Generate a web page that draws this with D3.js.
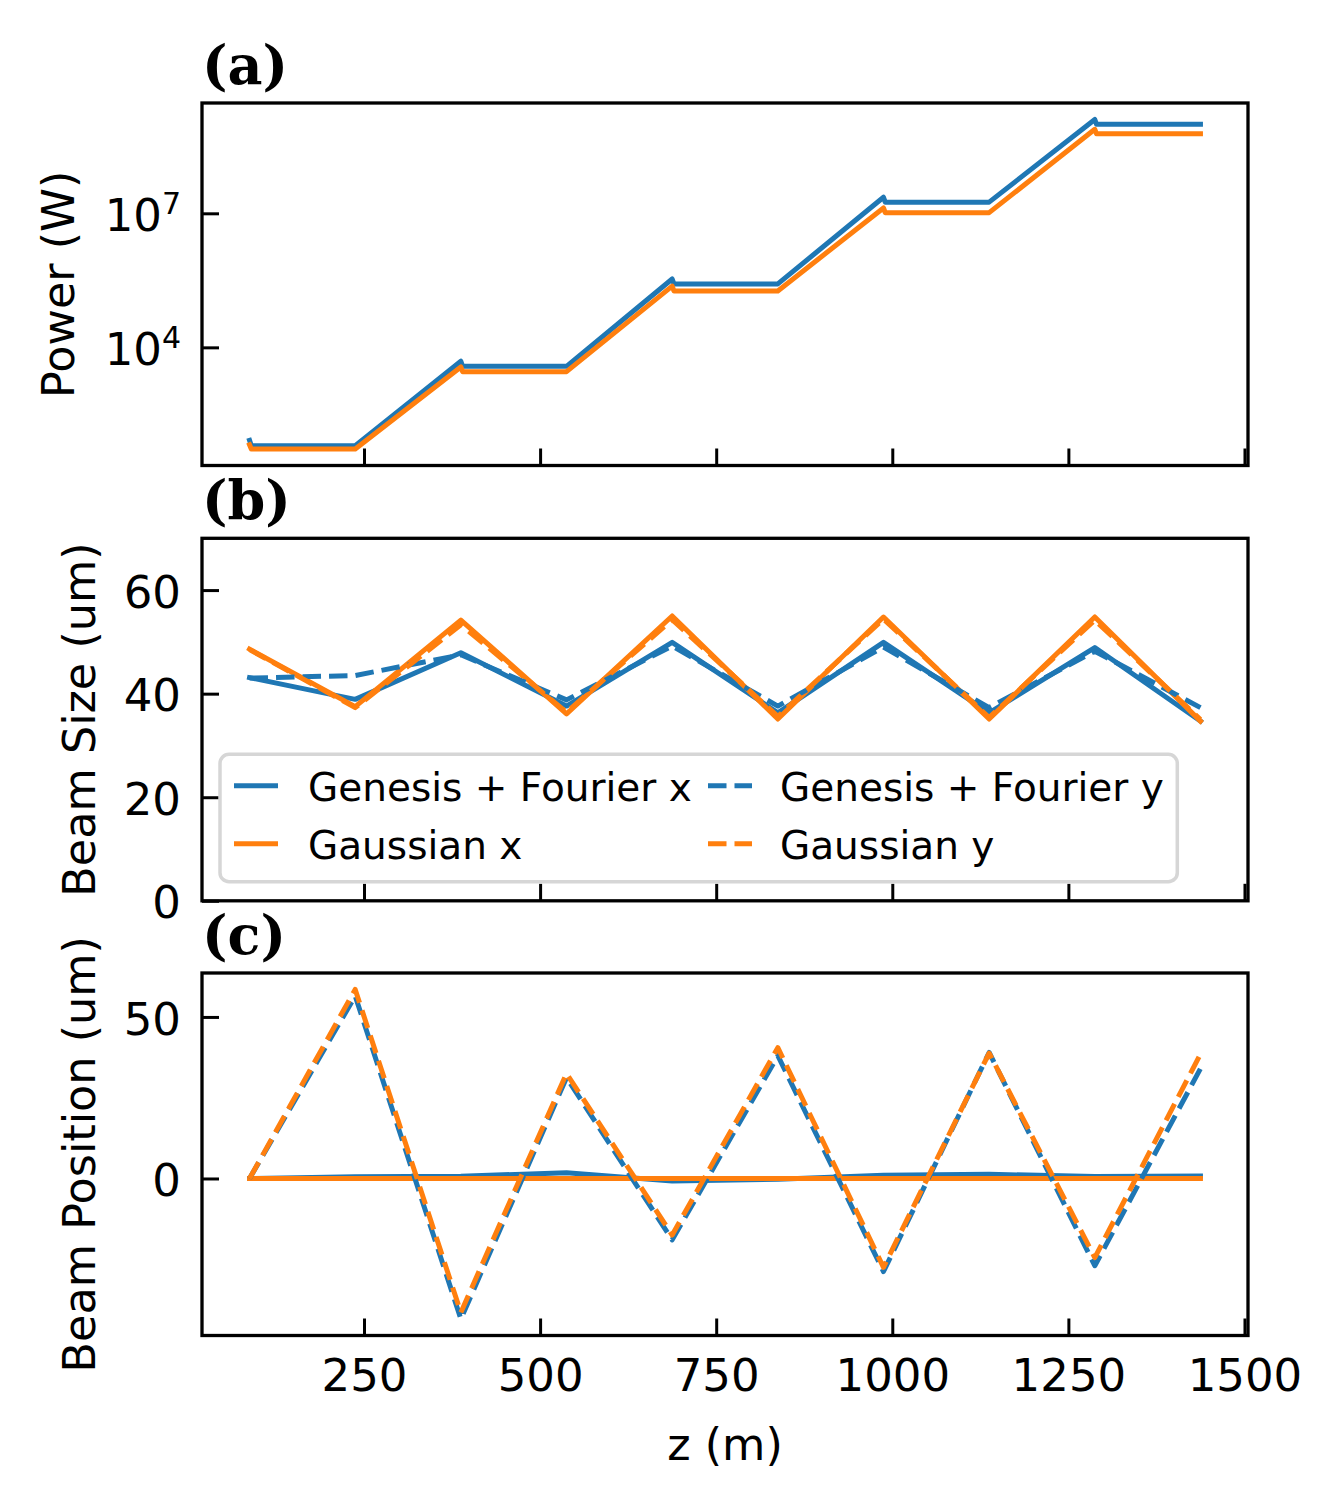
<!DOCTYPE html>
<html>
<head>
<meta charset="utf-8">
<script src="https://cdn.jsdelivr.net/npm/d3@7"></script>
<style>
body { margin: 0; background: #fff; }
</style>
</head>
<body>
<div id="chart"></div>
<script>
// z of the segment boundaries (m), shared by panels (b) and (c)
var zNodes = [87.5, 237.5, 387.5, 537.5, 687.5, 837.5, 987.5, 1137.5, 1287.5, 1437.5];
// power is sampled a bit finer at the start of each undulator section
var zPower = [87.5, 90, 237.5, 387.5, 390, 537.5, 687.5, 690, 837.5, 987.5, 990, 1137.5, 1287.5, 1290, 1437.5];

var powerGenesis = [83, 63, 63, 4900, 3760, 3760, 3.39e5, 2.63e5, 2.63e5, 2.29e7, 1.78e7, 1.78e7, 1.26e9, 9.8e8, 9.8e8];
var powerGauss = [66, 53, 53, 3630, 2860, 2860, 2.34e5, 1.83e5, 1.83e5, 1.32e7, 1.035e7, 1.035e7, 7.6e8, 6.0e8, 6.0e8];

var sizeGenesisX = [43.1, 38.9, 47.9, 37.6, 49.9, 36.3, 49.9, 36.3, 48.9, 34.7];
var sizeGenesisY = [43.0, 43.5, 47.5, 38.8, 49.2, 37.6, 49.0, 37.3, 48.2, 37.3];
var sizeGaussX = [48.6, 37.5, 54.2, 36.1, 55.0, 35.1, 54.8, 35.1, 54.8, 34.7];
var sizeGaussY = [48.5, 37.3, 53.3, 36.4, 54.3, 35.6, 54.4, 35.4, 54.2, 35.0];

var posGenesisX = [0, 0.5, 0.7, 1.8, -0.8, -0.2, 1.0, 1.3, 0.6, 0.8];
var posGenesisY = [0, 56.5, -43.5, 31.2, -19.0, 38.0, -28.8, 39.0, -27.0, 34.0];
var posGaussX = [0, 0, 0, 0, 0, 0, 0, 0, 0, 0];
var posGaussY = [0, 58.5, -41.5, 32.5, -17.5, 40.5, -27.5, 38.8, -24.5, 38.5];

var seriesLabels = ["Genesis + Fourier x", "Gaussian x", "Genesis + Fourier y", "Gaussian y"];
var panelLabels = ["(a)", "(b)", "(c)"];
var yLabels = ["Power (W)", "Beam Size (um)", "Beam Position (um)"];

var xTicks = [250, 500, 750, 1000, 1250, 1500];
var powerTicks = [1e4, 1e7];
var sizeTicks = [0, 20, 40, 60];
var sizeLimits = [0, 70];
var posTicks = [0, 50];

var blue = "#1f77b4", orange = "#ff7f0e";
var W = 1341, H = 1503;
var left = 202, right = 1248, panelH = 362.5;
var tops = [103, 538.3, 973];
var font = "DejaVu Sans";
var dash = "18.5,8";

var svg = d3.select("#chart").append("svg")
	.attr("width", W)
	.attr("height", H)
	.style("font-family", font);

// matplotlib style 5% margins
var pad = function (ext) {
	var m = (ext[1] - ext[0]) * 0.05;
	return [ext[0] - m, ext[1] + m];
};
var padLog = function (ext) {
	var p = pad([Math.log10(ext[0]), Math.log10(ext[1])]);
	return [Math.pow(10, p[0]), Math.pow(10, p[1])];
};

var x = d3.scaleLinear().domain(pad(d3.extent(zNodes))).range([left, right]);

var drawPanel = function (k, y, yTicks, yFormat, lines) {
	var top = tops[k], bottom = top + panelH;
	var g = svg.append("g");

	// clip so lines never leave the frame
	g.append("clipPath").attr("id", "clip" + k)
		.append("rect").attr("x", left).attr("y", top).attr("width", right - left).attr("height", panelH);

	var plot = g.append("g").attr("clip-path", "url(#clip" + k + ")");
	lines.forEach(function (l) {
		var line = d3.line()
			.x(function (d, i) { return x(l.z[i]); })
			.y(function (d) { return y(d); });
		plot.append("path")
			.datum(l.v)
			.attr("d", line)
			.attr("fill", "none")
			.attr("stroke", l.color)
			.attr("stroke-width", 5)
			.attr("stroke-linejoin", "round")
			.attr("stroke-linecap", l.dash ? "butt" : "square")
			.attr("stroke-dasharray", l.dash || null);
	});

	var xAxis = d3.axisBottom(x)
		.tickValues(xTicks)
		.tickSizeInner(-17)
		.tickSizeOuter(0)
		.tickPadding(24)
		.tickFormat(k == 2 ? d3.format("d") : "");
	var gx = g.append("g").attr("transform", "translate(0," + bottom + ")").call(xAxis);

	var yAxis = d3.axisLeft(y)
		.tickValues(yTicks)
		.tickSizeInner(-17)
		.tickSizeOuter(0)
		.tickPadding(21)
		.tickFormat(yFormat);
	var gy = g.append("g").attr("transform", "translate(" + left + ",0)").call(yAxis);

	[gx, gy].forEach(function (a) {
		a.select(".domain").remove();
		a.selectAll(".tick line").attr("stroke", "#000").attr("stroke-width", 3);
		a.selectAll(".tick text")
			.attr("fill", "#000")
			.style("font-family", font)
			.style("font-size", "45px");
	});
	gy.selectAll(".tick text").attr("dy", "0.38em");

	g.append("rect")
		.attr("x", left).attr("y", top)
		.attr("width", right - left).attr("height", panelH)
		.attr("fill", "none")
		.attr("stroke", "#000")
		.attr("stroke-width", 3.3);

	g.append("text")
		.attr("x", left)
		.attr("y", top - 19)
		.style("font-family", "DejaVu Serif")
		.style("font-weight", "bold")
		.style("font-size", "54px")
		.text(panelLabels[k]);

	g.append("text")
		.attr("transform", "translate(" + (k == 0 ? 74 : 95) + "," + (top + panelH / 2) + ") rotate(-90)")
		.attr("text-anchor", "middle")
		.style("font-size", "44.5px")
		.text(yLabels[k]);

	return gy;
};

// (a) power, log axis with 10^n labels
var allPower = powerGenesis.concat(powerGauss);
var yPow = d3.scaleLog().domain(padLog(d3.extent(allPower))).range([tops[0] + panelH, tops[0]]);
var gyPow = drawPanel(0, yPow, powerTicks, function () { return ""; }, [
	{ z: zPower, v: powerGenesis, color: blue },
	{ z: zPower, v: powerGauss, color: orange }
]);
gyPow.selectAll(".tick text").each(function (d) {
	var t = d3.select(this);
	t.append("tspan").text("10");
	t.append("tspan")
		.attr("dy", "-16.7px")
		.style("font-size", "30px")
		.text(Math.round(Math.log10(d)));
});

// (b) beam size
var ySize = d3.scaleLinear().domain(sizeLimits).range([tops[1] + panelH, tops[1]]);
drawPanel(1, ySize, sizeTicks, d3.format("d"), [
	{ z: zNodes, v: sizeGenesisX, color: blue },
	{ z: zNodes, v: sizeGaussX, color: orange },
	{ z: zNodes, v: sizeGenesisY, color: blue, dash: dash },
	{ z: zNodes, v: sizeGaussY, color: orange, dash: dash }
]);

// (c) beam position
var allPos = posGenesisX.concat(posGenesisY, posGaussX, posGaussY);
var yPos = d3.scaleLinear().domain(pad(d3.extent(allPos))).range([tops[2] + panelH, tops[2]]);
drawPanel(2, yPos, posTicks, d3.format("d"), [
	{ z: zNodes, v: posGenesisX, color: blue },
	{ z: zNodes, v: posGaussX, color: orange },
	{ z: zNodes, v: posGenesisY, color: blue, dash: dash },
	{ z: zNodes, v: posGaussY, color: orange, dash: dash }
]);

svg.append("text")
	.attr("x", (left + right) / 2)
	.attr("y", 1460)
	.attr("text-anchor", "middle")
	.style("font-size", "44.5px")
	.text("z (m)");

// legend of panel (b), two columns
var legend = svg.append("g");
legend.append("rect")
	.attr("x", 220).attr("y", 754.3)
	.attr("width", 957.3).attr("height", 127.4)
	.attr("rx", 9)
	.attr("fill", "#fff").attr("fill-opacity", 0.8)
	.attr("stroke", "#d6d6d6").attr("stroke-width", 3.5);

var legendColors = [blue, orange, blue, orange];
var legendDash = [null, null, dash, dash];
seriesLabels.forEach(function (s, i) {
	var col = Math.floor(i / 2), row = i % 2;
	var hx = col == 0 ? 234 : 708;
	var tx = col == 0 ? 308 : 780;
	var hy = row == 0 ? 785.7 : 843.7;
	legend.append("line")
		.attr("x1", hx).attr("x2", hx + 44)
		.attr("y1", hy).attr("y2", hy)
		.attr("stroke", legendColors[i])
		.attr("stroke-width", 5)
		.attr("stroke-dasharray", legendDash[i]);
	legend.append("text")
		.attr("x", tx)
		.attr("y", hy + 15)
		.style("font-size", "39px")
		.text(s);
});
</script>
</body>
</html>
